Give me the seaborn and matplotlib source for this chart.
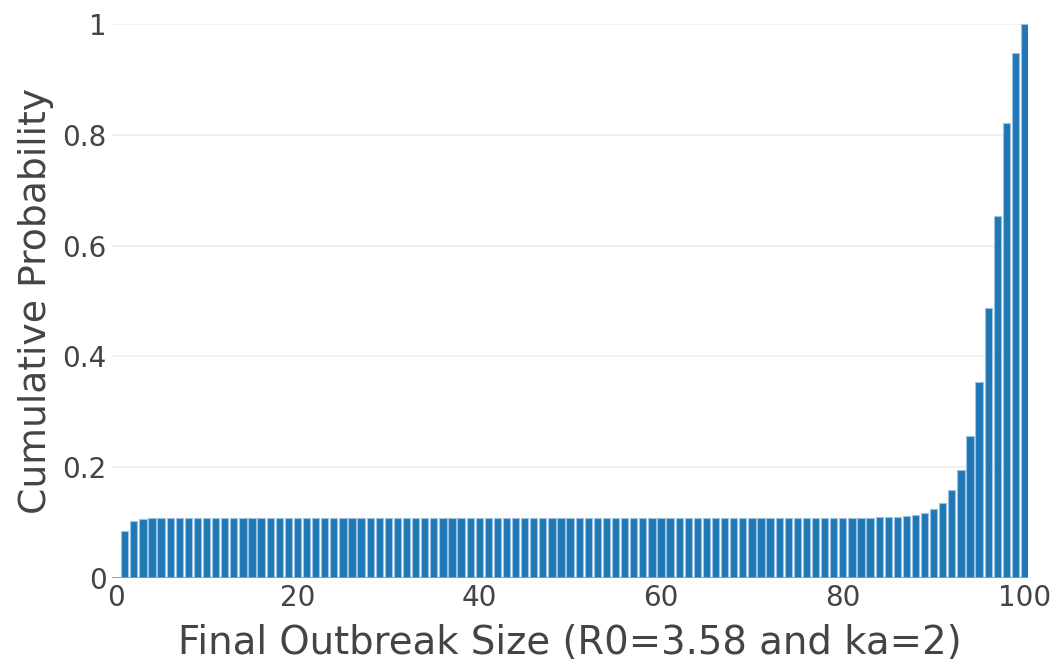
import matplotlib
matplotlib.use("Agg")
import matplotlib.pyplot as plt
import numpy as np
import pandas as pd
import seaborn as sns

# final outbreak size 1..100
outbreak_size = list(range(1, 101))

# cumulative probability
head = [0.085, 0.102, 0.106, 0.108]
plateau = [0.109] * 79          # sizes 5..83
tail = [0.1095, 0.110, 0.111,   # 84..86
        0.112, 0.114, 0.117, 0.124, 0.136, 0.158, 0.195, 0.257,
        0.353, 0.488, 0.654, 0.822, 0.947, 1.0]
cum_prob = head + plateau + tail

data = pd.DataFrame({"size": outbreak_size, "prob": cum_prob})

sns.set_style("white")
plt.rcParams["font.family"] = ["DejaVu Sans"]

fig = plt.figure(figsize=(10.6, 6.71), dpi=100)
ax = fig.add_axes([0.1057, 0.1386, 0.8643, 0.8256])

sns.barplot(data=data, x="size", y="prob", native_scale=True, width=0.8,
            color="#1f77b4", saturation=1, edgecolor="#9cc3e3", linewidth=0.8, ax=ax)

ax.set_xlim(-0.4, 100.4)
ax.set_ylim(0, 1.0)
ax.set_xticks([0, 20, 40, 60, 80, 100])
ax.set_yticks([0, 0.2, 0.4, 0.6, 0.8, 1.0])
ax.set_yticklabels(["0", "0.2", "0.4", "0.6", "0.8", "1"])
ax.yaxis.grid(True, color="#eeeeee", linewidth=1.2)
ax.set_axisbelow(True)
ax.axhline(0, color="#999999", linewidth=2, zorder=5)
for s in ax.spines.values():
    s.set_visible(False)
ax.tick_params(axis="both", length=0, labelsize=20, colors="#444444", pad=4)

ax.set_xlabel("Final Outbreak Size (R0=3.58 and ka=2)", fontsize=27.8, color="#444444", labelpad=9)
ax.set_ylabel("Cumulative Probability", fontsize=27.2, color="#444444", labelpad=6)

fig.savefig("out.png", dpi=100)
